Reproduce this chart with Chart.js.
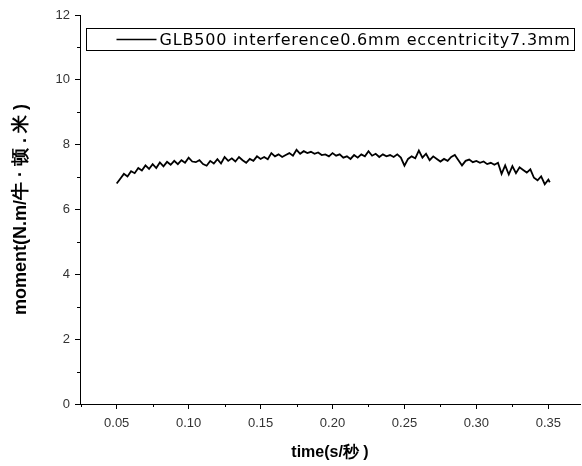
<!DOCTYPE html>
<html>
<head>
<meta charset="utf-8">
<script src="https://cdn.jsdelivr.net/npm/chart.js@4.4.0/dist/chart.umd.min.js"></script>
<style>
  html, body { margin: 0; padding: 0; background: #fff; }
  #wrap { width: 582px; height: 466px; }
</style>
</head>
<body>
<div id="wrap"><canvas id="moment"></canvas></div>
<script>
const serie_label = "GLB500 interference0.6mm eccentricity7.3mm";
const x_ticks = [0.05, 0.10, 0.15, 0.20, 0.25, 0.30, 0.35];
const x_minor = [0.025, 0.075, 0.125, 0.175, 0.225, 0.275, 0.325];
const y_minor = [1, 3, 5, 7, 9, 11];

const tiempos = [
  0.0500, 0.0525, 0.0550, 0.0575, 0.0600, 0.0625, 0.0650, 0.0675, 0.0700, 0.0725,
  0.0750, 0.0775, 0.0800, 0.0825, 0.0850, 0.0875, 0.0900, 0.0925, 0.0950, 0.0975,
  0.1000, 0.1025, 0.1050, 0.1075, 0.1100, 0.1125, 0.1150, 0.1175, 0.1200, 0.1225,
  0.1250, 0.1275, 0.1300, 0.1325, 0.1350, 0.1375, 0.1400, 0.1425, 0.1450, 0.1475,
  0.1500, 0.1525, 0.1550, 0.1575, 0.1600, 0.1625, 0.1650, 0.1675, 0.1700, 0.1725,
  0.1750, 0.1775, 0.1800, 0.1825, 0.1850, 0.1875, 0.1900, 0.1925, 0.1950, 0.1975,
  0.2000, 0.2025, 0.2050, 0.2075, 0.2100, 0.2125, 0.2150, 0.2175, 0.2200, 0.2225,
  0.2250, 0.2275, 0.2300, 0.2325, 0.2350, 0.2375, 0.2400, 0.2425, 0.2450, 0.2475,
  0.2500, 0.2525, 0.2550, 0.2575, 0.2600, 0.2625, 0.2650, 0.2675, 0.2700, 0.2725,
  0.2750, 0.2775, 0.2800, 0.2825, 0.2850, 0.2875, 0.2900, 0.2925, 0.2950, 0.2975,
  0.3000, 0.3025, 0.3050, 0.3075, 0.3100, 0.3125, 0.3150, 0.3175, 0.3200, 0.3225,
  0.3250, 0.3275, 0.3300, 0.3325, 0.3350, 0.3375, 0.3400, 0.3425, 0.3450, 0.3475,
  0.3500, 0.3510
];
const momentos = [
  6.80, 6.95, 7.10, 7.02, 7.18, 7.12, 7.28, 7.20, 7.36, 7.25,
  7.40, 7.28, 7.45, 7.33, 7.47, 7.38, 7.50, 7.40, 7.52, 7.44,
  7.60, 7.48, 7.46, 7.52, 7.40, 7.35, 7.50, 7.42, 7.55, 7.42,
  7.62, 7.50, 7.58, 7.48, 7.62, 7.52, 7.44, 7.56, 7.50, 7.64,
  7.56, 7.62, 7.55, 7.74, 7.64, 7.70, 7.62, 7.68, 7.74, 7.66,
  7.84, 7.72, 7.80, 7.74, 7.78, 7.72, 7.76, 7.68, 7.70, 7.64,
  7.74, 7.66, 7.70, 7.60, 7.64, 7.56, 7.68, 7.60, 7.70, 7.64,
  7.80, 7.66, 7.72, 7.62, 7.70, 7.64, 7.68, 7.62, 7.70, 7.60,
  7.35, 7.56, 7.64, 7.58, 7.82, 7.60, 7.72, 7.52, 7.64, 7.56,
  7.48, 7.56, 7.50, 7.62, 7.68, 7.52, 7.36, 7.50, 7.54, 7.46,
  7.50, 7.44, 7.48, 7.40, 7.44, 7.38, 7.44, 7.10, 7.36, 7.08,
  7.34, 7.12, 7.30, 7.22, 7.14, 7.24, 6.98, 6.90, 7.02, 6.78,
  6.92, 6.84
];

// minor ticks and the boxed legend inside the plot
const plugin_extras = {
  id: "extras",
  afterDraw: (chart) => {
    const ctx = chart.ctx;
    const xs = chart.scales.x;
    const ys = chart.scales.y;
    const area = chart.chartArea;
    ctx.save();
    ctx.strokeStyle = "#000";
    ctx.lineWidth = 1;
    ctx.beginPath();
    x_minor.forEach((v) => {
      const px = Math.round(xs.getPixelForValue(v)) + 0.5;
      ctx.moveTo(px, area.bottom);
      ctx.lineTo(px, area.bottom + 3);
    });
    y_minor.forEach((v) => {
      const py = Math.round(ys.getPixelForValue(v)) + 0.5;
      ctx.moveTo(area.left, py);
      ctx.lineTo(area.left - 3, py);
    });
    ctx.stroke();

    // legend box
    const bx = area.left + 6.5, by = area.top + 13.5, bw = 488, bh = 22;
    ctx.fillStyle = "#fff";
    ctx.fillRect(bx, by, bw, bh);
    ctx.strokeRect(bx, by, bw, bh);
    ctx.lineWidth = 1.5;
    ctx.beginPath();
    ctx.moveTo(bx + 30, by + bh / 2);
    ctx.lineTo(bx + 70, by + bh / 2);
    ctx.stroke();
    ctx.fillStyle = "#000";
    ctx.font = "16px 'DejaVu Sans'";
    ctx.letterSpacing = "0.8px";
    ctx.textBaseline = "middle";
    ctx.fillText(serie_label, bx + 73, by + bh / 2 + 1);
    ctx.restore();
  },
};

const ctx = document.getElementById("moment").getContext("2d");
const chart_momento = new Chart(ctx, {
  type: "line",
  data: {
    datasets: [
      {
        label: serie_label,
        data: tiempos.map((t, i) => ({ x: t, y: momentos[i] })),
        borderColor: "#000",
        borderWidth: 1.8,
        pointRadius: 0,
        tension: 0,
        fill: false,
      },
    ],
  },
  options: {
    responsive: true,
    maintainAspectRatio: false,
    animation: false,
    devicePixelRatio: 1,
    layout: { padding: { top: 15, right: 2, left: 0, bottom: 0 } },
    plugins: {
      legend: { display: false },
      tooltip: { enabled: false },
    },
    scales: {
      x: {
        type: "linear",
        min: 0.0245,
        max: 0.372,
        afterBuildTicks: (scale) => {
          scale.ticks = x_ticks.map((v) => ({ value: v }));
        },
        afterFit: (scale) => {
          scale.height = 62;
        },
        ticks: {
          callback: (v) => Number(v).toFixed(2),
          font: { family: "Liberation Sans", size: 13 },
          color: "#333",
          padding: 7,
          maxRotation: 0,
        },
        grid: {
          drawOnChartArea: false,
          drawTicks: true,
          tickLength: 5,
          color: "#000",
        },
        border: { display: true, color: "#000", width: 1 },
        title: {
          display: true,
          text: "time(s/秒 )",
          font: { family: "Liberation Sans", size: 16, weight: "bold" },
          color: "#000",
          padding: { top: 2, bottom: 4 },
        },
      },
      y: {
        min: 0,
        max: 12,
        afterFit: (scale) => {
          scale.width = 80;
        },
        ticks: {
          stepSize: 2,
          font: { family: "Liberation Sans", size: 13 },
          color: "#333",
          padding: 5,
        },
        grid: {
          drawOnChartArea: false,
          drawTicks: true,
          tickLength: 5,
          color: "#000",
        },
        border: { display: true, color: "#000", width: 1 },
        title: {
          display: true,
          text: "moment(N.m/牛 · 顿 . 米 )",
          font: { family: "Liberation Sans", size: 18, weight: "bold" },
          color: "#000",
          padding: { top: 10, bottom: 0 },
        },
      },
    },
  },
  plugins: [plugin_extras],
});
</script>
</body>
</html>
